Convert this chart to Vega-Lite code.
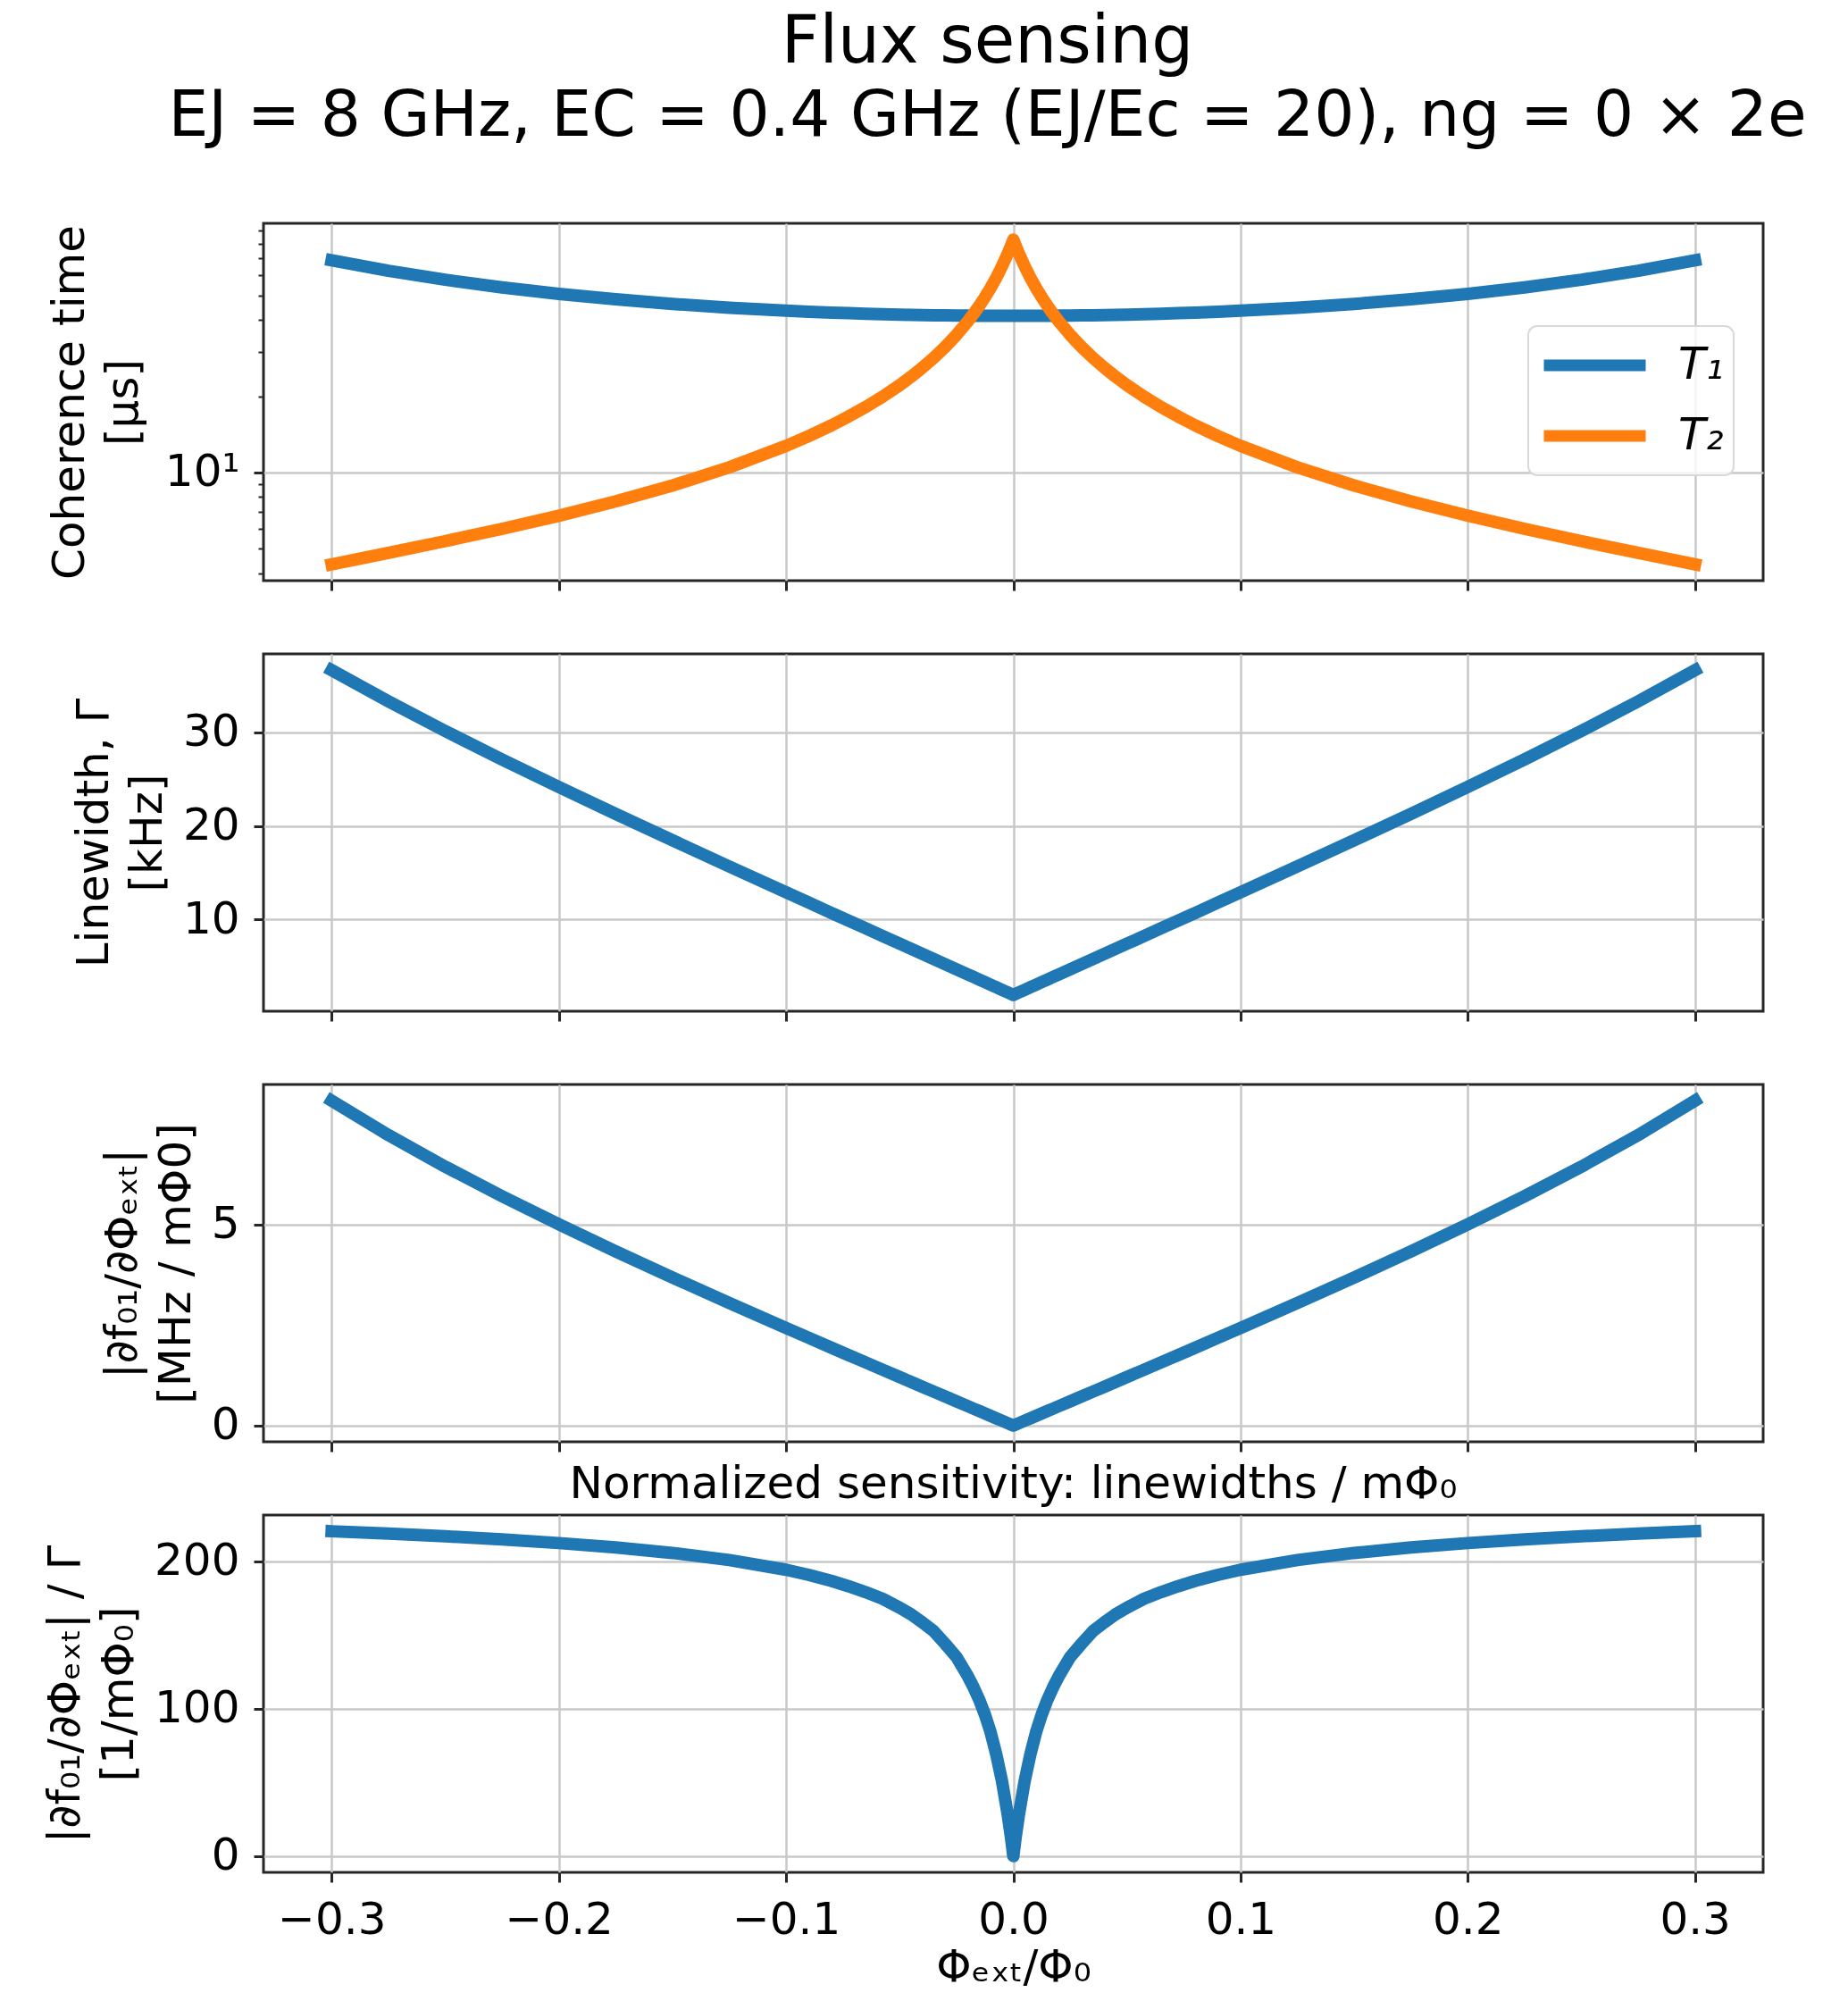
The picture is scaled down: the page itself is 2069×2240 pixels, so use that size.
{
  "$schema": "https://vega.github.io/schema/vega-lite/v6.json",
  "background": "white",
  "padding": {"left": 47, "top": 10, "right": 10, "bottom": 0},
  "title": {
    "text": "Flux sensing",
    "subtitle": "EJ = 8 GHz, EC = 0.4 GHz (EJ/Ec = 20), ng = 0 × 2e",
    "anchor": "middle",
    "frame": "group",
    "dx": -29,
    "font": "DejaVu Sans",
    "fontSize": 74,
    "fontWeight": "normal",
    "color": "black",
    "subtitleFont": "DejaVu Sans",
    "subtitleFontSize": 71,
    "subtitleColor": "black",
    "subtitlePadding": 10,
    "offset": 65
  },
  "datasets": {
    "d": [
      {"phi": -0.3, "T1": 68.80, "T2": 4.341, "G": 36.66, "df": 8.077, "S": 220.3},
      {"phi": -0.275, "T1": 62.50, "T2": 4.820, "G": 33.32, "df": 7.222, "S": 218.7},
      {"phi": -0.25, "T1": 57.62, "T2": 5.364, "G": 30.15, "df": 6.436, "S": 216.9},
      {"phi": -0.225, "T1": 53.76, "T2": 5.997, "G": 27.11, "df": 5.701, "S": 214.8},
      {"phi": -0.2, "T1": 50.69, "T2": 6.756, "G": 24.17, "df": 5.002, "S": 212.3},
      {"phi": -0.175, "T1": 48.23, "T2": 7.693, "G": 21.29, "df": 4.331, "S": 209.3},
      {"phi": -0.15, "T1": 46.26, "T2": 8.890, "G": 18.46, "df": 3.681, "S": 205.6},
      {"phi": -0.125, "T1": 44.71, "T2": 10.49, "G": 15.66, "df": 3.047, "S": 200.8},
      {"phi": -0.1, "T1": 43.51, "T2": 12.74, "G": 12.89, "df": 2.425, "S": 194.2},
      {"phi": -0.09, "T1": 43.12, "T2": 13.93, "G": 11.79, "df": 2.179, "S": 190.7},
      {"phi": -0.08, "T1": 42.76, "T2": 15.36, "G": 10.69, "df": 1.934, "S": 186.6},
      {"phi": -0.0725, "T1": 42.53, "T2": 16.64, "G": 9.866, "df": 1.751, "S": 183.0},
      {"phi": -0.065, "T1": 42.33, "T2": 18.14, "G": 9.045, "df": 1.569, "S": 179.0},
      {"phi": -0.0575, "T1": 42.15, "T2": 19.94, "G": 8.220, "df": 1.386, "S": 174.5},
      {"phi": -0.05, "T1": 41.99, "T2": 22.13, "G": 7.399, "df": 1.205, "S": 168.5},
      {"phi": -0.045, "T1": 41.89, "T2": 23.88, "G": 6.850, "df": 1.084, "S": 164.0},
      {"phi": -0.04, "T1": 41.81, "T2": 25.93, "G": 6.302, "df": 0.963, "S": 158.5},
      {"phi": -0.035, "T1": 41.74, "T2": 28.37, "G": 5.754, "df": 0.842, "S": 152.5},
      {"phi": -0.03, "T1": 41.67, "T2": 31.31, "G": 5.206, "df": 0.722, "S": 144.0},
      {"phi": -0.025, "T1": 41.62, "T2": 34.93, "G": 4.659, "df": 0.602, "S": 135.0},
      {"phi": -0.02, "T1": 41.58, "T2": 39.50, "G": 4.109, "df": 0.481, "S": 122.0},
      {"phi": -0.0175, "T1": 41.56, "T2": 42.27, "G": 3.837, "df": 0.421, "S": 114.5},
      {"phi": -0.015, "T1": 41.54, "T2": 45.46, "G": 3.563, "df": 0.361, "S": 106.0},
      {"phi": -0.0125, "T1": 41.53, "T2": 49.16, "G": 3.289, "df": 0.301, "S": 96.0},
      {"phi": -0.01, "T1": 41.52, "T2": 53.52, "G": 3.015, "df": 0.241, "S": 84.0},
      {"phi": -0.0075, "T1": 41.51, "T2": 58.73, "G": 2.741, "df": 0.180, "S": 69.0},
      {"phi": -0.005, "T1": 41.51, "T2": 65.07, "G": 2.466, "df": 0.120, "S": 51.0},
      {"phi": -0.0025, "T1": 41.50, "T2": 72.95, "G": 2.192, "df": 0.060, "S": 28.5},
      {"phi": -0.001, "T1": 41.50, "T2": 78.67, "G": 2.028, "df": 0.024, "S": 12.5},
      {"phi": 0, "T1": 41.50, "T2": 83.0, "G": 1.918, "df": 0.0, "S": 0.0},
      {"phi": 0.001, "T1": 41.50, "T2": 78.67, "G": 2.028, "df": 0.024, "S": 12.5},
      {"phi": 0.0025, "T1": 41.50, "T2": 72.95, "G": 2.192, "df": 0.060, "S": 28.5},
      {"phi": 0.005, "T1": 41.51, "T2": 65.07, "G": 2.466, "df": 0.120, "S": 51.0},
      {"phi": 0.0075, "T1": 41.51, "T2": 58.73, "G": 2.741, "df": 0.180, "S": 69.0},
      {"phi": 0.01, "T1": 41.52, "T2": 53.52, "G": 3.015, "df": 0.241, "S": 84.0},
      {"phi": 0.0125, "T1": 41.53, "T2": 49.16, "G": 3.289, "df": 0.301, "S": 96.0},
      {"phi": 0.015, "T1": 41.54, "T2": 45.46, "G": 3.563, "df": 0.361, "S": 106.0},
      {"phi": 0.0175, "T1": 41.56, "T2": 42.27, "G": 3.837, "df": 0.421, "S": 114.5},
      {"phi": 0.02, "T1": 41.58, "T2": 39.50, "G": 4.109, "df": 0.481, "S": 122.0},
      {"phi": 0.025, "T1": 41.62, "T2": 34.93, "G": 4.659, "df": 0.602, "S": 135.0},
      {"phi": 0.03, "T1": 41.67, "T2": 31.31, "G": 5.206, "df": 0.722, "S": 144.0},
      {"phi": 0.035, "T1": 41.74, "T2": 28.37, "G": 5.754, "df": 0.842, "S": 152.5},
      {"phi": 0.04, "T1": 41.81, "T2": 25.93, "G": 6.302, "df": 0.963, "S": 158.5},
      {"phi": 0.045, "T1": 41.89, "T2": 23.88, "G": 6.850, "df": 1.084, "S": 164.0},
      {"phi": 0.05, "T1": 41.99, "T2": 22.13, "G": 7.399, "df": 1.205, "S": 168.5},
      {"phi": 0.0575, "T1": 42.15, "T2": 19.94, "G": 8.220, "df": 1.386, "S": 174.5},
      {"phi": 0.065, "T1": 42.33, "T2": 18.14, "G": 9.045, "df": 1.569, "S": 179.0},
      {"phi": 0.0725, "T1": 42.53, "T2": 16.64, "G": 9.866, "df": 1.751, "S": 183.0},
      {"phi": 0.08, "T1": 42.76, "T2": 15.36, "G": 10.69, "df": 1.934, "S": 186.6},
      {"phi": 0.09, "T1": 43.12, "T2": 13.93, "G": 11.79, "df": 2.179, "S": 190.7},
      {"phi": 0.1, "T1": 43.51, "T2": 12.74, "G": 12.89, "df": 2.425, "S": 194.2},
      {"phi": 0.125, "T1": 44.71, "T2": 10.49, "G": 15.66, "df": 3.047, "S": 200.8},
      {"phi": 0.15, "T1": 46.26, "T2": 8.890, "G": 18.46, "df": 3.681, "S": 205.6},
      {"phi": 0.175, "T1": 48.23, "T2": 7.693, "G": 21.29, "df": 4.331, "S": 209.3},
      {"phi": 0.2, "T1": 50.69, "T2": 6.756, "G": 24.17, "df": 5.002, "S": 212.3},
      {"phi": 0.225, "T1": 53.76, "T2": 5.997, "G": 27.11, "df": 5.701, "S": 214.8},
      {"phi": 0.25, "T1": 57.62, "T2": 5.364, "G": 30.15, "df": 6.436, "S": 216.9},
      {"phi": 0.275, "T1": 62.50, "T2": 4.820, "G": 33.32, "df": 7.222, "S": 218.7},
      {"phi": 0.3, "T1": 68.80, "T2": 4.341, "G": 36.66, "df": 8.077, "S": 220.3}
    ]
  },
  "spacing": 82,
  "bounds": "flush",
  "vconcat": [
    {
      "width": 1679,
      "height": 400,
      "data": {"name": "d"},
      "transform": [{"fold": ["T1", "T2"], "as": ["series", "value"]}],
      "mark": {"type": "line", "strokeWidth": 14, "strokeCap": "square", "strokeJoin": "round", "clip": true},
      "encoding": {
        "x": {
          "field": "phi", "type": "quantitative",
          "scale": {"domain": [-0.33, 0.33], "nice": false, "zero": false},
          "axis": {"values": [-0.3, -0.2, -0.1, 0, 0.1, 0.2, 0.3], "labels": false, "title": null}
        },
        "y": {
          "field": "value", "type": "quantitative",
          "scale": {"type": "log", "domain": [3.746, 96.2], "nice": false},
          "axis": {
            "values": [4, 5, 6, 7, 8, 9, 10, 20, 30, 40, 50, 60, 70, 80, 90],
            "labelExpr": "datum.value == 10 ? '10¹' : ''",
            "tickSize": {"condition": {"test": "datum.value == 10", "value": 11}, "value": 6},
            "tickWidth": {"condition": {"test": "datum.value == 10", "value": 3}, "value": 2},
            "gridOpacity": {"condition": {"test": "datum.value == 10", "value": 1}, "value": 0},
            "titlePadding": 21,
            "title": ["Coherence time", "[μs]"]
          }
        },
        "color": {
          "field": "series", "type": "nominal",
          "scale": {"domain": ["T1", "T2"], "range": ["#1f77b4", "#ff7f0e"]},
          "legend": {
            "orient": "none", "legendX": 1416, "legendY": 115, "title": null,
            "symbolType": "stroke", "symbolSize": 12996, "symbolStrokeWidth": 13,
            "labelFontSize": 50, "labelFont": "DejaVu Sans", "labelFontStyle": "italic", "labelColor": "black",
            "labelExpr": "datum.label == 'T1' ? 'T₁' : 'T₂'",
            "fillColor": "rgba(255,255,255,0.8)", "strokeColor": "#d9d9d9", "cornerRadius": 10,
            "padding": 11, "rowPadding": 13, "clipHeight": 66, "labelOffset": 30
          }
        }
      }
    },
    {
      "width": 1679,
      "height": 400,
      "data": {"name": "d"},
      "mark": {"type": "line", "strokeWidth": 14, "strokeCap": "square", "strokeJoin": "round", "color": "#1f77b4", "clip": true},
      "encoding": {
        "x": {
          "field": "phi", "type": "quantitative",
          "scale": {"domain": [-0.33, 0.33], "nice": false, "zero": false},
          "axis": {"values": [-0.3, -0.2, -0.1, 0, 0.1, 0.2, 0.3], "labels": false, "title": null}
        },
        "y": {
          "field": "G", "type": "quantitative",
          "scale": {"domain": [0.18, 38.4], "nice": false, "zero": false},
          "axis": {"values": [10, 20, 30], "title": ["Linewidth, Γ", "[kHz]"]}
        }
      }
    },
    {
      "width": 1679,
      "height": 400,
      "data": {"name": "d"},
      "mark": {"type": "line", "strokeWidth": 14, "strokeCap": "square", "strokeJoin": "round", "color": "#1f77b4", "clip": true},
      "encoding": {
        "x": {
          "field": "phi", "type": "quantitative",
          "scale": {"domain": [-0.33, 0.33], "nice": false, "zero": false},
          "axis": {"values": [-0.3, -0.2, -0.1, 0, 0.1, 0.2, 0.3], "labels": false, "title": null}
        },
        "y": {
          "field": "df", "type": "quantitative",
          "scale": {"domain": [-0.404, 8.48], "nice": false, "zero": false},
          "axis": {"values": [0, 5], "title": ["|∂f₀₁/∂Φₑₓₜ|", "[MHz / mΦ0]"]}
        }
      }
    },
    {
      "width": 1679,
      "height": 400,
      "title": {"text": "Normalized sensitivity: linewidths / mΦ₀", "fontSize": 50, "fontWeight": "normal", "font": "DejaVu Sans", "color": "black", "offset": 9, "anchor": "middle"},
      "data": {"name": "d"},
      "mark": {"type": "line", "strokeWidth": 14, "strokeCap": "square", "strokeJoin": "round", "color": "#1f77b4", "clip": true},
      "encoding": {
        "x": {
          "field": "phi", "type": "quantitative",
          "scale": {"domain": [-0.33, 0.33], "nice": false, "zero": false},
          "axis": {"values": [-0.3, -0.2, -0.1, 0, 0.1, 0.2, 0.3], "format": ".1f", "title": "Φₑₓₜ/Φ₀", "labelPadding": 17, "titlePadding": 3}
        },
        "y": {
          "field": "S", "type": "quantitative",
          "scale": {"domain": [-11.0, 231.3], "nice": false, "zero": false},
          "axis": {"values": [0, 100, 200], "title": ["|∂f₀₁/∂Φₑₓₜ| / Γ", "[1/mΦ₀]"]}
        }
      }
    }
  ],
  "config": {
    "font": "DejaVu Sans",
    "view": {"stroke": "#262626", "strokeWidth": 3},
    "axis": {
      "domain": false,
      "tickColor": "#262626",
      "tickWidth": 3,
      "tickSize": 11,
      "labelFont": "DejaVu Sans",
      "labelFontSize": 50,
      "labelColor": "black",
      "labelPadding": 16,
      "labelOverlap": false,
      "titleFont": "DejaVu Sans",
      "titleFontSize": 50,
      "titleFontWeight": "normal",
      "titleColor": "black",
      "titleLineHeight": 60,
      "titlePadding": 14,
      "gridColor": "#c8c8c8",
      "gridWidth": 2.5
    },
    "legend": {"strokeWidth": 2}
  }
}
